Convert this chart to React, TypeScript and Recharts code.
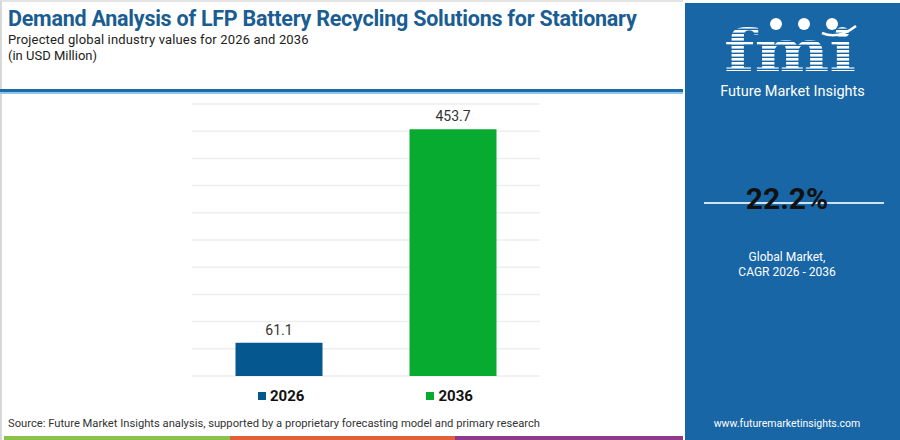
import React from 'react'
import { BarChart, Bar, Cell, XAxis, YAxis, CartesianGrid, LabelList } from 'recharts'

const YEARS = ['2026', '2036']
const VALUES = [61.1, 453.7]
const COLORS = ['#04578f', '#07ab2f']
const Y_TICKS = [0, 50, 100, 150, 200, 250, 300, 350, 400, 450, 500]
const CAGR = '22.2%'

const FONT = "Roboto, 'Open Sans', sans-serif"

const data = YEARS.map((year, i) => ({ year, value: VALUES[i] }))

function Logo() {
  // rough take on the striped "fmi" mark
  const stripes = []
  for (let y = 26; y < 76; y += 4) {
    stripes.push(<rect key={y} x={718} y={y + 2.6} width={145} height={1.4} fill="#1866a6" />)
  }
  return (
    <svg width={900} height={440} style={{ position: 'absolute', left: 0, top: 0, pointerEvents: 'none' }}>
      <text x={724} y={71} fontFamily="'DejaVu Serif', serif" fontWeight={700} fontSize={57} fill="#fff" textLength={132} lengthAdjust="spacingAndGlyphs">
        fmi
      </text>
      {stripes}
      <circle cx={776} cy={24} r={6} fill="#fff" />
      <circle cx={804} cy={24} r={6} fill="#fff" />
      <circle cx={832} cy={24} r={6} fill="#fff" />
      <path d="M 822 33 Q 838 40 856 26" stroke="#fff" strokeWidth={2.5} fill="none" />
    </svg>
  )
}

export default function App() {
  return (
    <div style={{ position: 'fixed', left: 0, top: 0, width: 900, height: 440, background: '#fff', overflow: 'hidden', fontFamily: FONT }}>
      <div style={{ position: 'absolute', left: 0, top: 0, width: 683, height: 440, borderLeft: '2px solid #d8d8d8', borderTop: '2px solid #e4e4e4', boxSizing: 'border-box' }} />
      <div style={{ position: 'absolute', left: 8, top: 6, fontSize: 21.5, lineHeight: '25px', fontWeight: 700, color: '#1a5d92', whiteSpace: 'nowrap', letterSpacing: -0.25 }}>
        Demand Analysis of LFP Battery Recycling Solutions for Stationary
      </div>
      <div style={{ position: 'absolute', left: 8, top: 32, fontSize: 13, lineHeight: '15px', color: '#222', whiteSpace: 'nowrap', letterSpacing: 0.15 }}>
        Projected global industry values for 2026 and 2036
      </div>
      <div style={{ position: 'absolute', left: 8, top: 47.5, fontSize: 13, lineHeight: '15px', color: '#222' }}>(in USD Million)</div>
      <div style={{ position: 'absolute', left: 0, top: 89, width: 683, height: 3, background: '#1f6aa5' }} />
      <div style={{ position: 'absolute', left: 0, top: 92, width: 683, height: 1.5, background: '#8cc7ee' }} />

      <div style={{ position: 'absolute', left: 0, top: 0 }}>
        <BarChart width={683} height={440} data={data} margin={{ top: 104, left: 192, right: 143, bottom: 64 }} barCategoryGap="25%">
          <CartesianGrid vertical={false} stroke="#eeeeee" strokeWidth={1.5} />
          <XAxis dataKey="year" hide />
          <YAxis hide domain={[0, 500]} ticks={Y_TICKS} />
          <Bar dataKey="value" isAnimationActive={false}>
            {data.map((d, i) => (
              <Cell key={d.year} fill={COLORS[i]} />
            ))}
            <LabelList dataKey="value" position="top" offset={8} fill="#333" fontSize={14} fontFamily={FONT} />
          </Bar>
        </BarChart>
      </div>

      <div style={{ position: 'absolute', left: 258, top: 387, display: 'flex', alignItems: 'center' }}>
        {YEARS.map((y, i) => (
          <div key={y} style={{ display: 'flex', alignItems: 'center', marginRight: i === 0 ? 122 : 0 }}>
            <span style={{ width: 8, height: 8, background: COLORS[i], display: 'inline-block', marginRight: 4 }} />
            <span style={{ fontSize: 15, fontWeight: 700, color: '#111' }}>{y}</span>
          </div>
        ))}
      </div>

      <div style={{ position: 'absolute', left: 8, top: 417, fontSize: 11.2, color: '#333', whiteSpace: 'nowrap' }}>
        Source: Future Market Insights analysis, supported by a proprietary forecasting model and primary research
      </div>
      <div style={{ position: 'absolute', left: 4, top: 436, width: 226, height: 4, background: '#8bc34a' }} />
      <div style={{ position: 'absolute', left: 230, top: 436, width: 225, height: 4, background: '#e1603a' }} />
      <div style={{ position: 'absolute', left: 455, top: 436, width: 228, height: 4, background: '#8e3a8c' }} />

      <div style={{ position: 'absolute', left: 685, top: 3, width: 215, height: 437, background: '#1866a6' }} />
      <Logo />
      <div style={{ position: 'absolute', left: 685, top: 85, width: 215, textAlign: 'center', color: '#fff', fontSize: 14.5, lineHeight: '14px' }}>
        Future Market Insights
      </div>
      <div style={{ position: 'absolute', left: 704, top: 202, width: 180, height: 1.5, background: '#cfe3f3' }} />
      <div style={{ position: 'absolute', left: 685, top: 182, width: 204, textAlign: 'center', color: '#111', fontSize: 30, lineHeight: '34px', fontWeight: 700 }}>
        {CAGR}
      </div>
      <div style={{ position: 'absolute', left: 685, top: 250, width: 204, textAlign: 'center', color: '#fff', fontSize: 12, lineHeight: '15px' }}>
        Global Market,
        <br />
        CAGR 2026 - 2036
      </div>
      <div style={{ position: 'absolute', left: 685, top: 417, width: 204, textAlign: 'center', color: '#fff', fontSize: 10.5 }}>
        www.futuremarketinsights.com
      </div>
    </div>
  )
}
